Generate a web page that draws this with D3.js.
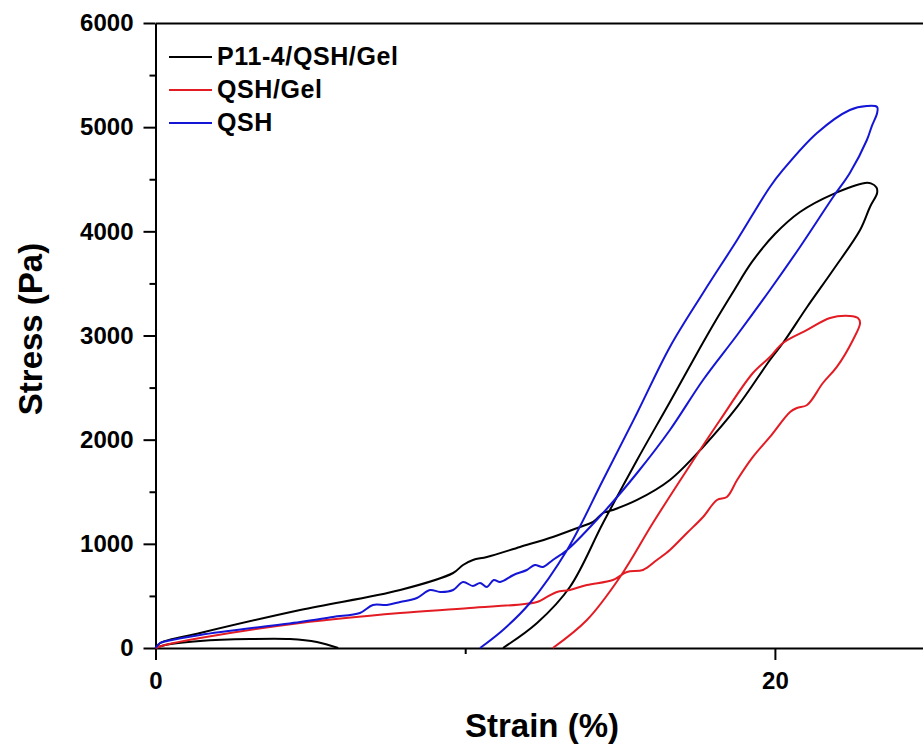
<!DOCTYPE html>
<html>
<head>
<meta charset="utf-8">
<script src="https://cdn.jsdelivr.net/npm/d3@7"></script>
<style>
    body { margin: 0; background: #fff; }
    svg { display: block; }
</style>
</head>
<body>
<div id="chart"></div>
<script>
// strain (%) , stress (Pa)
const seriesNames = ["P11-4/QSH/Gel", "QSH/Gel", "QSH"];
const seriesColors = ["#000000", "#e31b23", "#1515d6"];

// null = break in the line (end of the loop, then the small return hump)
const p11Data = [
    [0, 0], [0.15, 48], [1.44, 144], [4.67, 365], [7.90, 557], [9.61, 720],
    [9.93, 797], [10.25, 845], [10.70, 874], [11.77, 970], [12.83, 1066],
    [13.71, 1162], [14.13, 1210], [14.45, 1296], [14.77, 1325], [15.55, 1421],
    [16.61, 1613], [17.68, 1930], [18.78, 2314], [19.84, 2765], [20.26, 2928],
    [21.04, 3274], [21.88, 3629], [22.75, 4013], [23.07, 4234], [23.30, 4368],
    [23.28, 4420], [23.10, 4460], [22.91, 4464], [21.88, 4358], [20.81, 4186],
    [20.00, 3974], [19.26, 3706], [18.65, 3418], [18.10, 3149], [17.58, 2880],
    [16.61, 2362], [15.55, 1805], [14.45, 1200], [13.38, 586], [12.32, 240], [11.22, 0],
    null,
    [5.90, 0], [5.21, 58], [4.34, 86], [3.05, 86], [1.44, 67], [0.31, 29], [0, 0]
];

const qshGelData = [
    [0, 0], [0.31, 29], [1.44, 96], [4.67, 240], [7.90, 336], [10.15, 384],
    [12.32, 442], [12.64, 490], [12.96, 538], [13.38, 557], [13.93, 605],
    [14.77, 653], [15.22, 730], [15.74, 749], [16.19, 845], [16.61, 941],
    [17.16, 1104], [17.68, 1258], [18.13, 1421], [18.45, 1450], [18.78, 1613],
    [19.29, 1834], [19.84, 2026], [20.49, 2266], [20.71, 2304], [21.04, 2333],
    [21.55, 2544], [22.00, 2698], [22.52, 2957], [22.75, 3120], [22.68, 3168],
    [22.42, 3187], [21.78, 3168], [21.04, 3053], [20.26, 2928], [19.84, 2794],
    [19.29, 2640], [18.23, 2189], [17.16, 1709], [16.06, 1200], [15.00, 682],
    [13.93, 269], [12.83, 0]
];

const qshData = [
    [0, 0], [0.15, 48], [0.37, 67], [1.44, 125], [4.67, 250], [5.73, 298],
    [6.60, 336], [7.02, 413], [7.47, 413], [7.90, 442], [8.44, 480], [8.86, 557],
    [9.19, 538], [9.61, 557], [9.93, 634], [10.25, 595], [10.48, 624],
    [10.70, 586], [10.92, 653], [11.13, 634], [11.56, 701], [11.99, 749],
    [12.25, 797], [12.51, 778], [12.83, 845], [13.29, 941], [14.45, 1296],
    [15.55, 1680], [16.61, 2093], [17.68, 2573], [18.78, 3005], [19.84, 3437],
    [20.81, 3850], [21.88, 4330], [22.42, 4560], [22.97, 4877], [23.13, 5011],
    [23.30, 5136], [23.30, 5194], [22.97, 5203], [22.42, 5165], [21.36, 4944],
    [20.26, 4589], [19.84, 4426], [18.78, 3917], [17.68, 3408], [16.61, 2890],
    [15.55, 2256], [14.45, 1613], [13.29, 941], [12.09, 432], [11.22, 173], [10.48, 0]
];

const strainTicks = [0, 20];
const strainMinorTicks = [10];
const stressTicks = [0, 1000, 2000, 3000, 4000, 5000, 6000];
const stressMinorTicks = [500, 1500, 2500, 3500, 4500, 5500];

const drawChart = () => {

    const width = 923;
    const height = 747;
    const fontFamily = "'Liberation Sans', Arial, sans-serif";

    const svg = d3.select("#chart")
        .append("svg")
        .attr("width", width)
        .attr("height", height);

    const xScale = d3.scaleLinear()
        .domain([0, 25])
        .range([155.5, 155.5 + 25 * 30.97]);

    const yScale = d3.scaleLinear()
        .domain([0, 6000])
        .range([648, 23]);

    //X axis
    svg.append("g")
        .attr("class", "axis-x")
        .attr("transform", `translate(0, ${yScale(0)})`)
        .call(d3.axisBottom(xScale).tickValues(strainTicks).tickFormat(d3.format("d"))
            .tickSize(12).tickSizeOuter(0).tickPadding(12));

    svg.append("g")
        .attr("class", "axis-minor")
        .attr("transform", `translate(0, ${yScale(0)})`)
        .call(d3.axisBottom(xScale).tickValues(strainMinorTicks).tickSize(6).tickFormat(""));

    //Y axis
    svg.append("g")
        .attr("class", "axis-y")
        .attr("transform", `translate(${xScale(0)}, 0)`)
        .call(d3.axisLeft(yScale).tickValues(stressTicks).tickFormat(d3.format("d"))
            .tickSize(12).tickSizeOuter(0).tickPadding(10));

    svg.append("g")
        .attr("class", "axis-minor")
        .attr("transform", `translate(${xScale(0)}, 0)`)
        .call(d3.axisLeft(yScale).tickValues(stressMinorTicks).tickSize(6).tickFormat(""));

    //top frame line
    svg.append("g")
        .attr("class", "axis-top")
        .attr("transform", `translate(0, ${yScale(6000)})`)
        .call(d3.axisTop(xScale).tickValues([]).tickSizeOuter(0));

    svg.selectAll(".domain, .tick line")
        .attr("stroke", "#000")
        .attr("stroke-width", 2);

    svg.selectAll(".axis-minor .domain").remove();

    svg.selectAll(".axis-x text, .axis-y text")
        .attr("fill", "#000")
        .style("font-family", fontFamily)
        .style("font-weight", "bold")
        .style("font-size", "24px");

    svg.append("text")
        .text("Strain (%)")
        .attr("x", 542)
        .attr("y", 737)
        .attr("text-anchor", "middle")
        .style("font-family", fontFamily)
        .style("font-weight", "bold")
        .style("font-size", "33px");

    svg.append("text")
        .text("Stress (Pa)")
        .attr("transform", "translate(42, 329) rotate(-90)")
        .attr("text-anchor", "middle")
        .style("font-family", fontFamily)
        .style("font-weight", "bold")
        .style("font-size", "33px");

    //curves
    const allSeries = [p11Data, qshGelData, qshData];

    const lineGenerator = d3.line()
        .defined(d => d !== null)
        .x(d => xScale(d[0]))
        .y(d => yScale(d[1]))
        .curve(d3.curveCatmullRom.alpha(0.5));

    svg.selectAll(".curve")
        .data(allSeries)
        .join("path")
            .attr("class", "curve")
            .attr("d", d => lineGenerator(d))
            .attr("fill", "none")
            .attr("stroke", (d, i) => seriesColors[i])
            .attr("stroke-width", 2)
            .attr("stroke-linejoin", "round");

    //legend
    const legend = svg.append("g")
        .attr("transform", "translate(169, 57)");

    const legendItems = legend.selectAll("g")
        .data(seriesNames)
        .join("g")
            .attr("transform", (d, i) => `translate(0, ${i * 33})`);

    legendItems.append("line")
        .attr("x1", 0)
        .attr("x2", 43)
        .attr("stroke", (d, i) => seriesColors[i])
        .attr("stroke-width", 2);

    legendItems.append("text")
        .text(d => d)
        .attr("x", 48)
        .attr("y", 0)
        .attr("dy", "0.33em")
        .attr("letter-spacing", "0.6px")
        .style("font-family", fontFamily)
        .style("font-weight", "bold")
        .style("font-size", "25px");
};

drawChart();
</script>
</body>
</html>
